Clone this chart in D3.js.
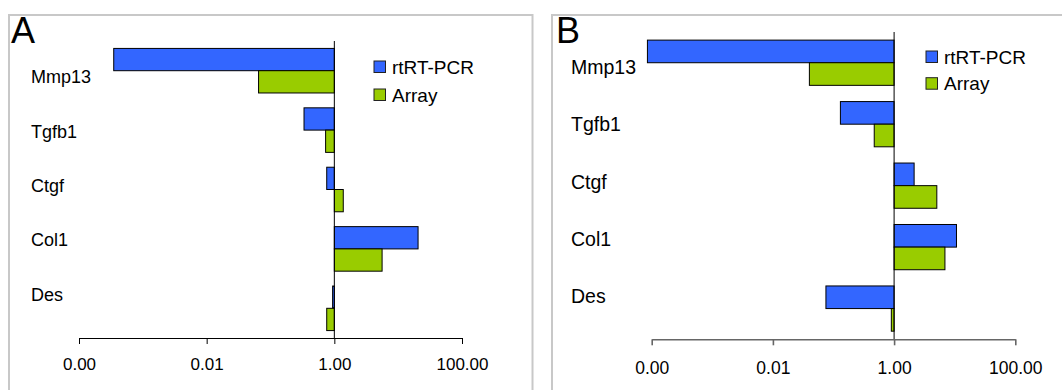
<!DOCTYPE html>
<html>
<head>
<meta charset="utf-8">
<script src="https://cdn.jsdelivr.net/npm/d3@7"></script>
<style>
  html, body { margin: 0; padding: 0; background: #fff; }
  svg { display: block; font-family: "Liberation Sans", Arial, sans-serif; }
</style>
</head>
<body>
<svg id="chart" width="1062" height="390"></svg>
<script>
// ---- data ----
const categories = ["Mmp13", "Tgfb1", "Ctgf", "Col1", "Des"];
const seriesNames = ["rtRT-PCR", "Array"];
const panelLetters = ["A", "B"];
const panelA_pcr   = [0.00035, 0.335, 0.76, 20.5, 0.94];
const panelA_array = [0.065, 0.73, 1.38, 5.6, 0.76];
const panelB_pcr   = [0.000085, 0.13, 2.14, 10.7, 0.075];
const panelB_array = [0.04, 0.47, 5.07, 6.9, 0.9];
const tickValues = [0.0001, 0.01, 1, 100];
const tickLabels = ["0.00", "0.01", "1.00", "100.00"];
const colors = ["#3366FF", "#99CC00"];

// ---- layout (styles / positions) ----
const panels = [
  { letter: panelLetters[0], pcr: panelA_pcr, arr: panelA_array,
    box: [9, 15, 523.5], x: [79, 462], y: [41, 338], labelX: 31, labelY: [83.3, 300.7],
    labelSize: 18, tickSize: 17, tickPad: 14, axisColor: "#000", axisWidth: 1,
    legend: { x: 374, y: 61, gap: 28, size: 19 }, letterPos: [11, 43], barFrac: 0.375 },
  { letter: panelLetters[1], pcr: panelB_pcr, arr: panelB_array,
    box: [552, 15, 520], x: [651.7, 1015.3], y: [32, 339.3], labelX: 571, labelY: [74, 303.3],
    labelSize: 19.5, tickSize: 17.5, tickPad: 16, axisColor: "#666", axisWidth: 1.6,
    legend: { x: 926, y: 51, gap: 26.7, size: 19 }, letterPos: [556, 43], barFrac: 0.368 }
];

const svg = d3.select("#chart");

panels.forEach(p => {
  const g = svg.append("g");

  // panel border
  g.append("rect")
    .attr("x", p.box[0]).attr("y", p.box[1])
    .attr("width", p.box[2]).attr("height", 420)
    .attr("fill", "none").attr("stroke", "#c8c8c8").attr("stroke-width", 2);

  // letter
  g.append("text")
    .attr("x", p.letterPos[0]).attr("y", p.letterPos[1])
    .attr("font-size", 36).attr("fill", "#000")
    .text(p.letter);

  const x = d3.scaleLog().domain([tickValues[0], tickValues[tickValues.length - 1]]).range(p.x);
  const y = d3.scaleBand().domain(categories).range(p.y).paddingInner(0).paddingOuter(0);
  const yl = d3.scalePoint().domain(categories).range(p.labelY);
  const bh = y.bandwidth() * p.barFrac;
  const x1 = x(1);

  const series = [p.pcr, p.arr];
  series.forEach((vals, si) => {
    g.selectAll(null)
      .data(categories.map((c, i) => ({ c, v: vals[i] })))
      .enter().append("rect")
      .attr("x", d => Math.min(x(d.v), x1))
      .attr("width", d => Math.abs(x(d.v) - x1))
      .attr("y", d => y(d.c) + y.bandwidth() / 2 - bh + si * bh)
      .attr("height", bh)
      .attr("fill", colors[si])
      .attr("stroke", "#000").attr("stroke-width", 1);
  });

  // vertical axis at 1.00
  g.append("line")
    .attr("x1", x1).attr("x2", x1)
    .attr("y1", p.y[0]).attr("y2", p.y[1])
    .attr("stroke", "#000").attr("stroke-width", 1);

  // category labels
  g.selectAll(null).data(categories).enter().append("text")
    .attr("x", p.labelX).attr("y", d => yl(d))
    .attr("font-size", p.labelSize).attr("fill", "#000")
    .text(d => d);

  // x axis
  const ax = g.append("g")
    .attr("transform", `translate(0,${p.y[1]})`)
    .call(d3.axisBottom(x).tickValues(tickValues)
      .tickFormat((d, i) => tickLabels[i])
      .tickSizeInner(6).tickSizeOuter(0).tickPadding(p.tickPad));
  ax.select(".domain").attr("stroke", p.axisColor).attr("stroke-width", p.axisWidth);
  ax.selectAll(".tick line").attr("stroke", p.axisColor).attr("stroke-width", p.axisWidth);
  ax.selectAll(".tick text")
    .attr("font-size", p.tickSize)
    .attr("font-family", "'Liberation Sans', Arial, sans-serif")
    .attr("fill", "#000");

  // legend
  seriesNames.forEach((name, si) => {
    const ly = p.legend.y + si * p.legend.gap;
    g.append("rect")
      .attr("x", p.legend.x).attr("y", ly)
      .attr("width", 11.5).attr("height", 11.5)
      .attr("fill", colors[si]).attr("stroke", "#222").attr("stroke-width", 1);
    g.append("text")
      .attr("x", p.legend.x + 18).attr("y", ly + 12.5)
      .attr("font-size", p.legend.size).attr("fill", "#000")
      .text(name);
  });
});
</script>
</body>
</html>
